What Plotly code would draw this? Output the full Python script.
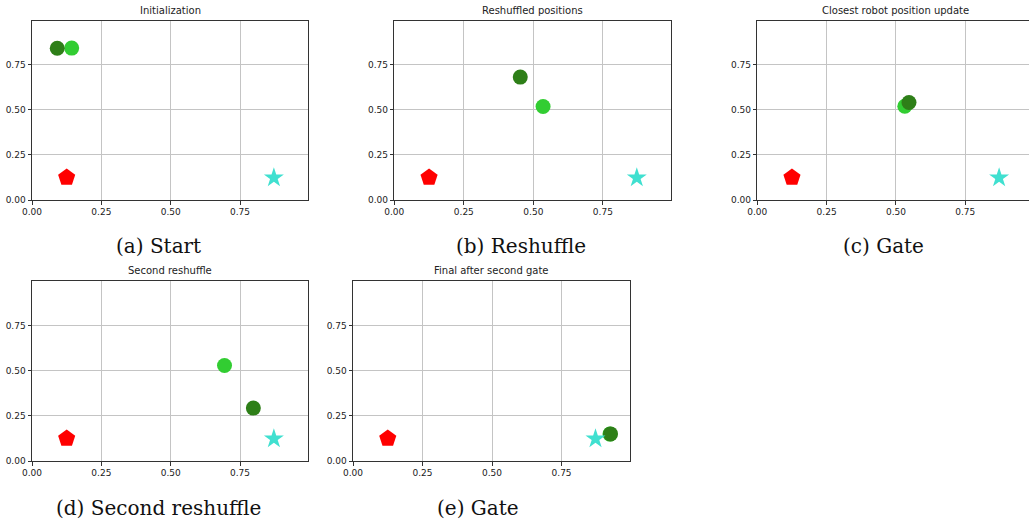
import plotly.graph_objects as go

W, H = 1029, 522

panel_titles = ["Initialization", "Reshuffled positions", "Closest robot position update",
                "Second reshuffle", "Final after second gate"]
captions = ["(a) Start", "(b) Reshuffle", "(c) Gate", "(d) Second reshuffle", "(e) Gate"]

# robot positions per panel
dark_x = [0.091, 0.453, 0.547, 0.798, 0.926]
dark_y = [0.842, 0.682, 0.541, 0.293, 0.150]
light_x = [0.143, 0.535, 0.532, 0.694, 0.924]
light_y = [0.843, 0.519, 0.520, 0.529, 0.149]
# fixed start (pentagon) and goal (star)
start_x, start_y = 0.125, 0.125
goal_x, goal_y = 0.872, 0.123

tick_vals = [0, 0.25, 0.5, 0.75]
tick_text = ["0.00", "0.25", "0.50", "0.75"]

# layout in pixels: (left, right, top, bottom)
boxes = [(32, 308, 20.7, 200), (394.3, 671, 20.7, 200), (757.3, 1029, 20.7, 200),
         (32, 308, 281.3, 461), (353, 629.7, 281.3, 461)]
xmax = [0.995, 0.995, (1029 - 757.3) / 277.3, 0.995, 0.995]
cap_pos = [(158, 246), (521, 246), (883, 246), (158, 508), (478, 508)]

fig = go.Figure()
for i in range(5):
    xa = "x" if i == 0 else f"x{i+1}"
    ya = "y" if i == 0 else f"y{i+1}"
    fig.add_trace(go.Scatter(x=[light_x[i]], y=[light_y[i]], xaxis=xa, yaxis=ya, mode="markers",
                             marker=dict(symbol="circle", size=15, color="#32CD32", line=dict(width=0)),
                             showlegend=False))
    fig.add_trace(go.Scatter(x=[dark_x[i]], y=[dark_y[i]], xaxis=xa, yaxis=ya, mode="markers",
                             marker=dict(symbol="circle", size=15, color="#2E7F18", line=dict(width=0)),
                             showlegend=False))
    fig.add_trace(go.Scatter(x=[start_x], y=[start_y], xaxis=xa, yaxis=ya, mode="markers",
                             marker=dict(symbol="pentagon", size=18, color="#FF0000", line=dict(width=0)),
                             showlegend=False))
    fig.add_trace(go.Scatter(x=[goal_x], y=[goal_y], xaxis=xa, yaxis=ya, mode="markers",
                             marker=dict(symbol="star", size=15, color="#40E0D0", line=dict(width=0)),
                             showlegend=False))

layout = dict(width=W, height=H, margin=dict(l=0, r=0, t=0, b=0, autoexpand=False),
              paper_bgcolor="white", plot_bgcolor="white", showlegend=False)
annotations = []
for i in range(5):
    l, r, t, b = boxes[i]
    xk = "xaxis" if i == 0 else f"xaxis{i+1}"
    yk = "yaxis" if i == 0 else f"yaxis{i+1}"
    ya = "y" if i == 0 else f"y{i+1}"
    xa = "x" if i == 0 else f"x{i+1}"
    common = dict(tickvals=tick_vals, ticktext=tick_text, showgrid=True, gridcolor="#c4c4c4",
                  gridwidth=1, zeroline=False, showline=True, linecolor="#333333", linewidth=1,
                  ticks="outside", ticklen=3.5, tickcolor="#333333", automargin=False,
                  tickfont=dict(family="DejaVu Sans", size=9, color="#222222"))
    layout[xk] = dict(domain=[l / W, min(r / W, 1)], range=[0, xmax[i]], anchor=ya, mirror=True, **common)
    layout[yk] = dict(domain=[1 - b / H, 1 - t / H], range=[0, 0.995], anchor=xa, mirror=(i != 2), **common)
    cx = (l + (r if i != 2 else 757.3 + 277.3)) / 2
    annotations.append(dict(text=panel_titles[i], x=cx / W, y=1 - (t - 3) / H, xref="paper", yref="paper",
                            xanchor="center", yanchor="bottom", showarrow=False,
                            font=dict(family="DejaVu Sans", size=10, color="#222222")))
    px, py = cap_pos[i]
    annotations.append(dict(text=captions[i], x=px / W, y=1 - py / H, xref="paper", yref="paper",
                            xanchor="center", yanchor="middle", showarrow=False,
                            font=dict(family="DejaVu Serif", size=20, color="#111111")))
layout["annotations"] = annotations
fig.update_layout(**layout)
fig.write_html("out.html", config={"displayModeBar": False},
               post_script="document.body.style.margin='0';document.body.style.overflow='hidden';")
